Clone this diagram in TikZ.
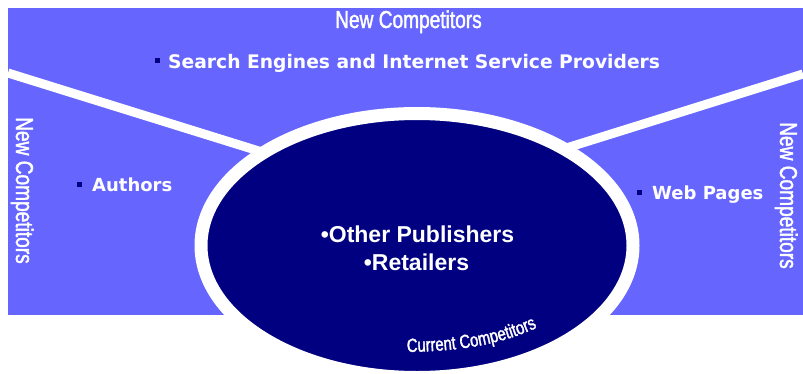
\documentclass[tikz,border=0pt]{standalone}
\usepackage{fontspec}
\usetikzlibrary{decorations.text}
\newfontfamily\narrowfont[FakeStretch=0.78,FakeBold=1.6]{Liberation Sans}
\newfontfamily\verdfont{DejaVu Sans}
\newfontfamily\arialfont{Liberation Sans}
\definecolor{panel}{HTML}{6666FF}
\definecolor{navy}{HTML}{000080}
\tikzset{
  heading/.style={inner sep=0, text=white, font=\narrowfont\fontsize{24.5}{26}\selectfont},
  item/.style={inner sep=0, text=white, font=\verdfont\bfseries\fontsize{18}{20}\selectfont, anchor=base west},
  bulletsq/.style={fill=navy, draw=none, minimum size=5pt, inner sep=0},
  divider/.style={white, line width=9pt},
  core/.style={inner sep=0, text=white, font=\arialfont\bfseries\fontsize{23}{28}\selectfont, align=center}
}
\begin{document}
\begin{tikzpicture}[x=1pt,y=-1pt]
\useasboundingbox (0,0) rectangle (803,373);
% background panel
\fill[panel] (8,8) rectangle (803,315);
% dividers
\coordinate (l0) at (8,73);
\coordinate (l1) at (262,152);
\coordinate (r0) at (803,74);
\coordinate (r1) at (560,150);
\draw[divider] (l0) -- (l1);
\draw[divider] (r0) -- (r1);
% central ellipse
\draw[white, line width=13pt, fill=navy] (417,245.5) ellipse [x radius=216, y radius=132];
% headings
\node[heading, anchor=base] (top) at (408.5,28) {New Competitors};
\node[heading, rotate=-90, anchor=base west] (left) at (16,117) {New Competitors};
\node[heading, rotate=-90, anchor=base west] (right) at (780,122) {New Competitors};
% items
\node[bulletsq] (b1) at (157,60.5) {};
\node[item, font=\verdfont\bfseries\fontsize{18.7}{20}\selectfont] (search) at (168,68) {Search Engines and Internet Service Providers};
\node[bulletsq] (b2) at (79.5,184.5) {};
\node[item] (authors) at (92,191) {Authors};
\node[bulletsq] (b3) at (639.5,192.5) {};
\node[item] (web) at (652,199) {Web Pages};
% core
\node[core, anchor=base] (pub) at (417.5,242) {\textbullet Other Publishers};
\node[core, anchor=base] (ret) at (416.5,270) {\textbullet Retailers};
% curved label
\path[decorate, decoration={text along path, text align=left,
  text={|\narrowfont\fontsize{19}{19}\selectfont\color{white}|Current Competitors}}]
  (407,352) .. controls (465,351) and (510,344) .. (556,318);
\end{tikzpicture}
\end{document}
